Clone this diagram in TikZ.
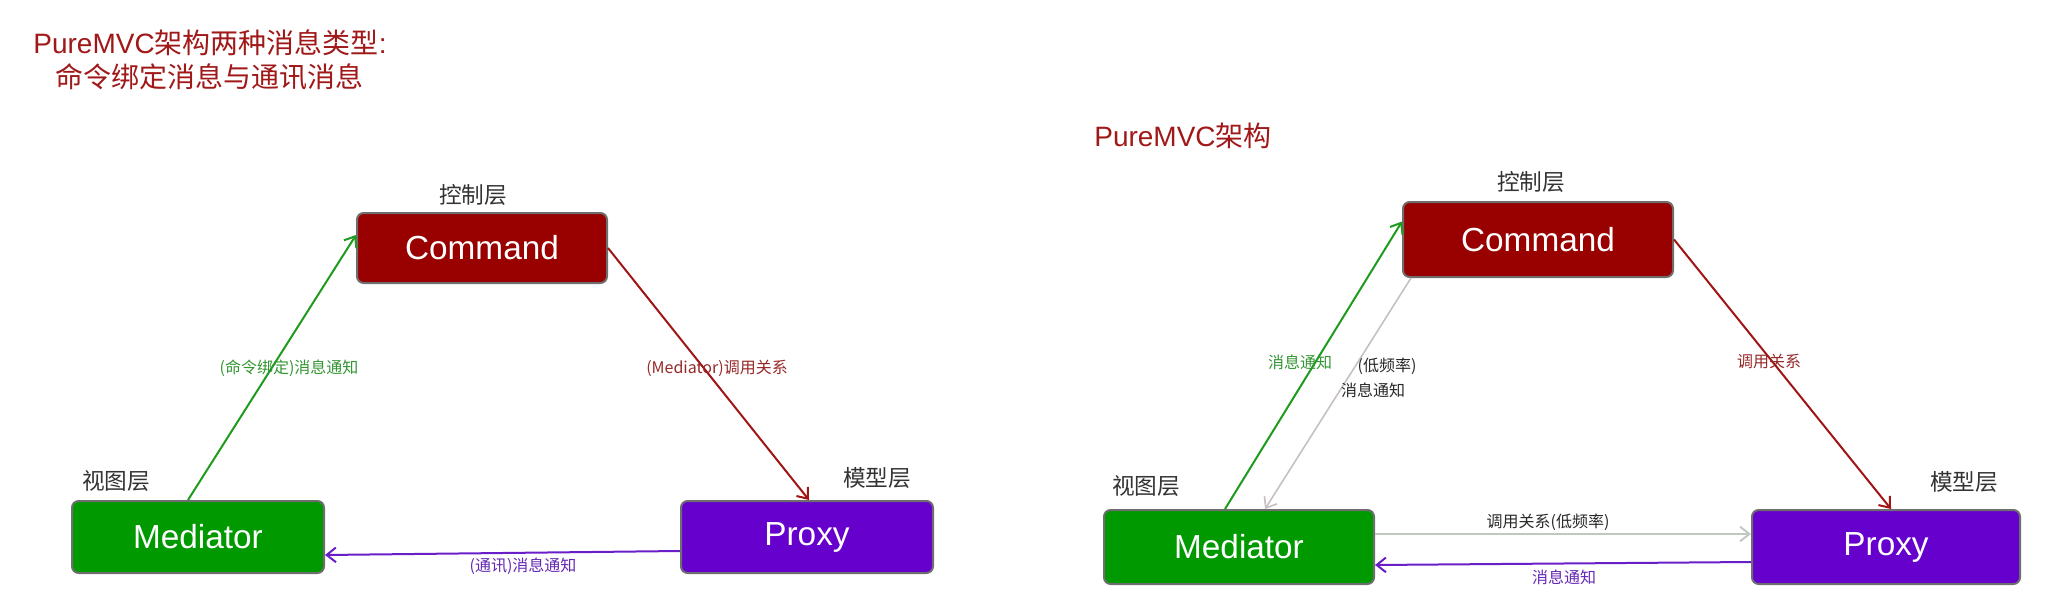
\documentclass[tikz,border=0pt]{standalone}
\usepackage{fontspec}
\setmainfont{Liberation Sans}
\newfontfamily\cjk{Noto Sans CJK SC}
\usetikzlibrary{arrows.meta,calc}
\definecolor{cmdred}{RGB}{153,0,0}
\definecolor{medgreen}{RGB}{0,153,0}
\definecolor{proxpurple}{RGB}{102,0,204}
\definecolor{titlered}{RGB}{160,24,24}
\definecolor{arrgreen}{RGB}{30,155,30}
\definecolor{arrred}{RGB}{160,20,20}
\definecolor{arrpurple}{RGB}{105,30,200}
\definecolor{arrgray}{RGB}{200,192,192}
\definecolor{arrgraytwo}{RGB}{192,200,192}
\definecolor{lblgreen}{RGB}{50,150,50}
\definecolor{lblred}{RGB}{150,40,40}
\definecolor{lblpurple}{RGB}{100,40,180}
\definecolor{lbldark}{RGB}{40,40,40}
\definecolor{bordergray}{RGB}{110,110,110}
\begin{document}
\begin{tikzpicture}[x=0.75pt,y=-0.75pt,
  box/.style={draw=bordergray, line width=1.5pt, rounded corners=5pt, text=white, font=\fontsize{25}{25}\selectfont, inner sep=0pt},
  layer/.style={text=black!80, font=\cjk\fontsize{17}{17}\selectfont, inner sep=0pt},
  lbl/.style={font=\cjk\fontsize{12}{12}\selectfont, inner sep=0pt},
  conn/.style={line width=1.5pt, -{Straight Barb[length=7pt,width=11pt]}},
  ttl/.style={text=titlered, font=\fontsize{21}{25.5}\selectfont, inner sep=0pt, align=center}
]
\useasboundingbox (0,0) rectangle (2066,610);

% ---------- left diagram ----------
\node[ttl] (ttlL) at (210,60) {PureMVC{\cjk 架构两种消息类型}:\\{\cjk 命令绑定消息与通讯消息}};

\node[box, fill=cmdred, minimum width=187.5pt, minimum height=52.5pt] (cmdL) at (482,248) {Command};
\node[box, fill=medgreen, minimum width=189pt, minimum height=54pt] (medL) at (198,537) {Mediator};
\node[box, fill=proxpurple, minimum width=189pt, minimum height=54pt] (proxL) at (807,537) {Proxy};

\node[layer] (layCL) at (473,195) {控制层};
\node[layer] (layML) at (116,481) {视图层};
\node[layer] (layPL) at (877,478) {模型层};

\draw[conn, arrgreen] ($(medL.north)+(-10,0)$) -- ($(cmdL.west)+(0,-13)$);
\draw[conn, arrred] (cmdL.east) -- ($(proxL.north)+(2,0)$);
\draw[conn, arrpurple] ($(proxL.west)+(0,14)$) -- ($(medL.east)+(0,18)$);

\node[lbl, text=lblgreen] (lgL) at (289,368) {(命令绑定)消息通知};
\node[lbl, text=lblred] (lrL) at (717,368) {(Mediator)调用关系};
\node[lbl, text=lblpurple] (lpL) at (523,566) {(通讯)消息通知};

% ---------- right diagram ----------
\node[ttl] (ttlR) at (1183,136) {PureMVC{\cjk 架构}};

\node[box, fill=cmdred, minimum width=202.5pt, minimum height=56.25pt] (cmdR) at (1538,239.5) {Command};
\node[box, fill=medgreen, minimum width=202.5pt, minimum height=55.5pt] (medR) at (1239,547) {Mediator};
\node[box, fill=proxpurple, minimum width=201pt, minimum height=55.5pt] (proxR) at (1886,547) {Proxy};

\node[layer] (layCR) at (1531,182) {控制层};
\node[layer] (layMR) at (1146,486) {视图层};
\node[layer] (layPR) at (1964,482) {模型层};

\draw[conn, arrgreen] ($(medR.north)+(-14,0)$) -- ($(cmdR.west)+(0,-18)$);
\draw[conn, arrgray, line width=1.2pt] ($(cmdR.south west)+(9,0)$) -- ($(medR.north)+(26,0)$);
\draw[conn, arrred] (cmdR.east) -- ($(proxR.north)+(5,0)$);
\draw[conn, arrgraytwo] ($(medR.east)+(0,-13)$) -- ($(proxR.west)+(0,-13)$);
\draw[conn, arrpurple] ($(proxR.west)+(0,15)$) -- ($(medR.east)+(0,18)$);

\node[lbl, text=lblgreen] (lgR) at (1300,362) {消息通知};
\node[lbl, text=lbldark] (lkR) at (1387,366) {(低频率)};
\node[lbl, text=lbldark] (lkRb) at (1373,390) {消息通知};
\node[lbl, text=lblred] (lrR) at (1769,361) {调用关系};
\node[lbl, text=lbldark] (lhR) at (1548,522) {调用关系(低频率)};
\node[lbl, text=lblpurple] (lpR) at (1564,577) {消息通知};
\end{tikzpicture}
\end{document}
